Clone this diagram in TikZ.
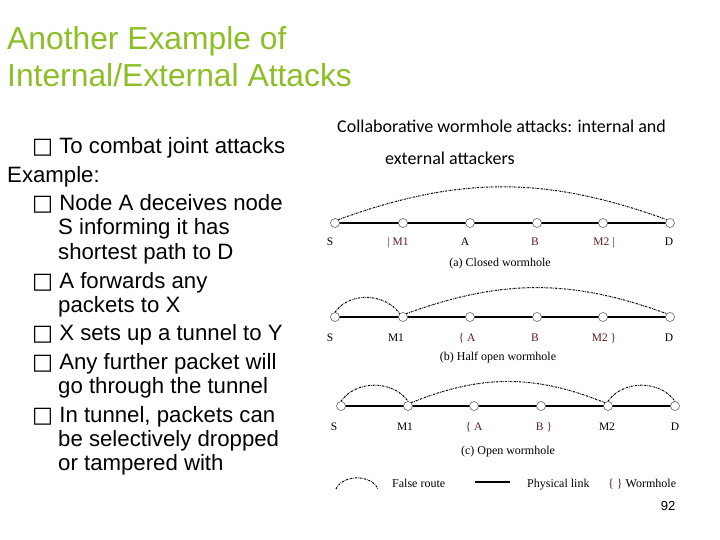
\documentclass[tikz,border=0pt]{standalone}
\usepackage{fontspec}
\setmainfont{Liberation Serif}
\newfontfamily\arial{Liberation Sans}
\newfontfamily\calib{Carlito}
\newfontfamily\dv{DejaVu Sans}
\definecolor{titlegreen}{HTML}{8CBF26}
\definecolor{wred}{HTML}{5A1E1E}
\begin{document}
\begin{tikzpicture}[x=1pt,y=-1pt,
  nd/.style={circle,draw=black!70,fill=white,minimum size=9pt,inner sep=0pt,line width=0.5pt},
  phys/.style={line width=2.2pt},
  fake/.style={dash pattern=on 2pt off 1pt on 0.6pt off 1pt,line width=1pt},
  lbl/.style={font=\fontsize{11.5}{13}\selectfont,anchor=base,inner sep=0pt},
  wl/.style={lbl,text=wred},
  captxt/.style={font=\fontsize{12}{14}\selectfont,anchor=base,inner sep=0pt},
  bl/.style={font=\arial\fontsize{22.2}{25}\selectfont,anchor=base west,inner sep=0pt},
  ttl/.style={font=\arial\fontsize{31.8}{35}\selectfont,text=titlegreen,anchor=base west,inner sep=0pt}]
\useasboundingbox (0,0) rectangle (720,540);
% title
\node[ttl] (t1) at (7,50) {Another Example of};
\node[ttl] (t2) at (7,87) {Internal/External Attacks};
% bullets
\node[bl] (b1) at (32,154) {{\dv □} To combat joint attacks};
\node[bl] (b2) at (7,183) {Example:};
\node[bl] (b3) at (32,211) {{\dv □} Node A deceives node};
\node[bl] (b4) at (58,235) {S informing it has};
\node[bl] (b5) at (58,259) {shortest path to D};
\node[bl] (b6) at (32,288) {{\dv □} A forwards any};
\node[bl] (b7) at (58,312) {packets to X};
\node[bl] (b8) at (32,340) {{\dv □} X sets up a tunnel to Y};
\node[bl] (b9) at (32,369) {{\dv □} Any further packet will};
\node[bl] (b10) at (58,393) {go through the tunnel};
\node[bl] (b11) at (32,422) {{\dv □} In tunnel, packets can};
\node[bl] (b12) at (58,446) {be selectively dropped};
\node[bl] (b13) at (58,470) {or tampered with};
% heading
\node[font=\calib\fontsize{18}{20}\selectfont,anchor=base west,inner sep=0pt] (h1) at (337,133) {Collaborative wormhole attacks: internal and};
\node[font=\calib\fontsize{18}{20}\selectfont,anchor=base west,inner sep=0pt] (h2) at (385,165) {external attackers};
% (a)
\foreach \n/\x in {aS/335,aM1/403,aA/470,aB/537,aM2/603,aD/670}{\coordinate (\n) at (\x,223);}
\draw[phys] (aS) -- (aD);
\foreach \n in {aS,aM1,aA,aB,aM2,aD}{\node[nd] (\n n) at (\n) {};}
\draw[fake] (aSn.north east) to[bend left=20] (aDn.north west);
\node[lbl] (laS) at (330,245) {S};
\node[wl] (laM1) at (398,245) {| M1};
\node[lbl] (laA) at (465,245) {A};
\node[wl] (laB) at (535,245) {B};
\node[wl] (laM2) at (604,245) {M2 |};
\node[lbl] (laD) at (669,245) {D};
\node[captxt] (ca) at (500,266) {(a) Closed wormhole};
% (b)
\foreach \n/\x in {bS/335,bM1/403,bA/470,bB/537,bM2/603,bD/670}{\coordinate (\n) at (\x,317);}
\draw[phys] (bS) -- (bD);
\foreach \n in {bS,bM1,bA,bB,bM2,bD}{\node[nd] (\n n) at (\n) {};}
\draw[fake] (bSn.north) to[out=55,in=125,looseness=1] (bM1n.north west);
\draw[fake] (bM1n.north east) to[bend left=20] (bDn.north west);
\node[lbl] (lbS) at (330,341) {S};
\node[lbl] (lbM1) at (396,341) {M1};
\node[wl] (lbA) at (467,341) {\{ A};
\node[wl] (lbB) at (535,341) {B};
\node[wl] (lbM2) at (604,341) {M2 \}};
\node[lbl] (lbD) at (669,341) {D};
\node[captxt] (cb) at (498,360) {(b) Half open wormhole};
% (c)
\foreach \n/\x in {cS/341,cM1/408,cA/474,cB/541,cM2/608,cD/675}{\coordinate (\n) at (\x,406);}
\draw[phys] (cS) -- (cD);
\foreach \n in {cS,cM1,cA,cB,cM2,cD}{\node[nd] (\n n) at (\n) {};}
\draw[fake] (cSn.north) to[out=55,in=125,looseness=1] (cM1n.north);
\draw[fake] (cM1n.north east) to[bend left=22] (cM2n.north west);
\draw[fake] (cM2n.north) to[out=55,in=125,looseness=1] (cDn.north);
\node[lbl] (lcS) at (334,430) {S};
\node[lbl] (lcM1) at (405,430) {M1};
\node[wl] (lcA) at (474,430) {\{ A};
\node[wl] (lcB) at (544,430) {B \}};
\node[lbl] (lcM2) at (607,430) {M2};
\node[lbl] (lcD) at (675,430) {D};
\node[captxt] (cc) at (508,454) {(c) Open wormhole};
% legend
\coordinate (fr1) at (336,489);
\coordinate (fr2) at (378,489);
\draw[fake] (fr1) to[out=65,in=115,looseness=1] (fr2);
\node[captxt,anchor=base west] (lfr) at (392,487) {False route};
\coordinate (pl1) at (475,482);
\coordinate (pl2) at (510,482);
\draw[line width=1.5pt] (pl1) -- (pl2);
\node[captxt,anchor=base west] (lpl) at (527,487) {Physical link};
\node[captxt,anchor=base west] (lwh) at (608,487) {\textcolor{wred}{\{ \}} Wormhole};
\node[font=\arial\fontsize{13}{15}\selectfont,anchor=base,inner sep=0pt] (pg) at (668,510) {92};
\end{tikzpicture}
\end{document}
